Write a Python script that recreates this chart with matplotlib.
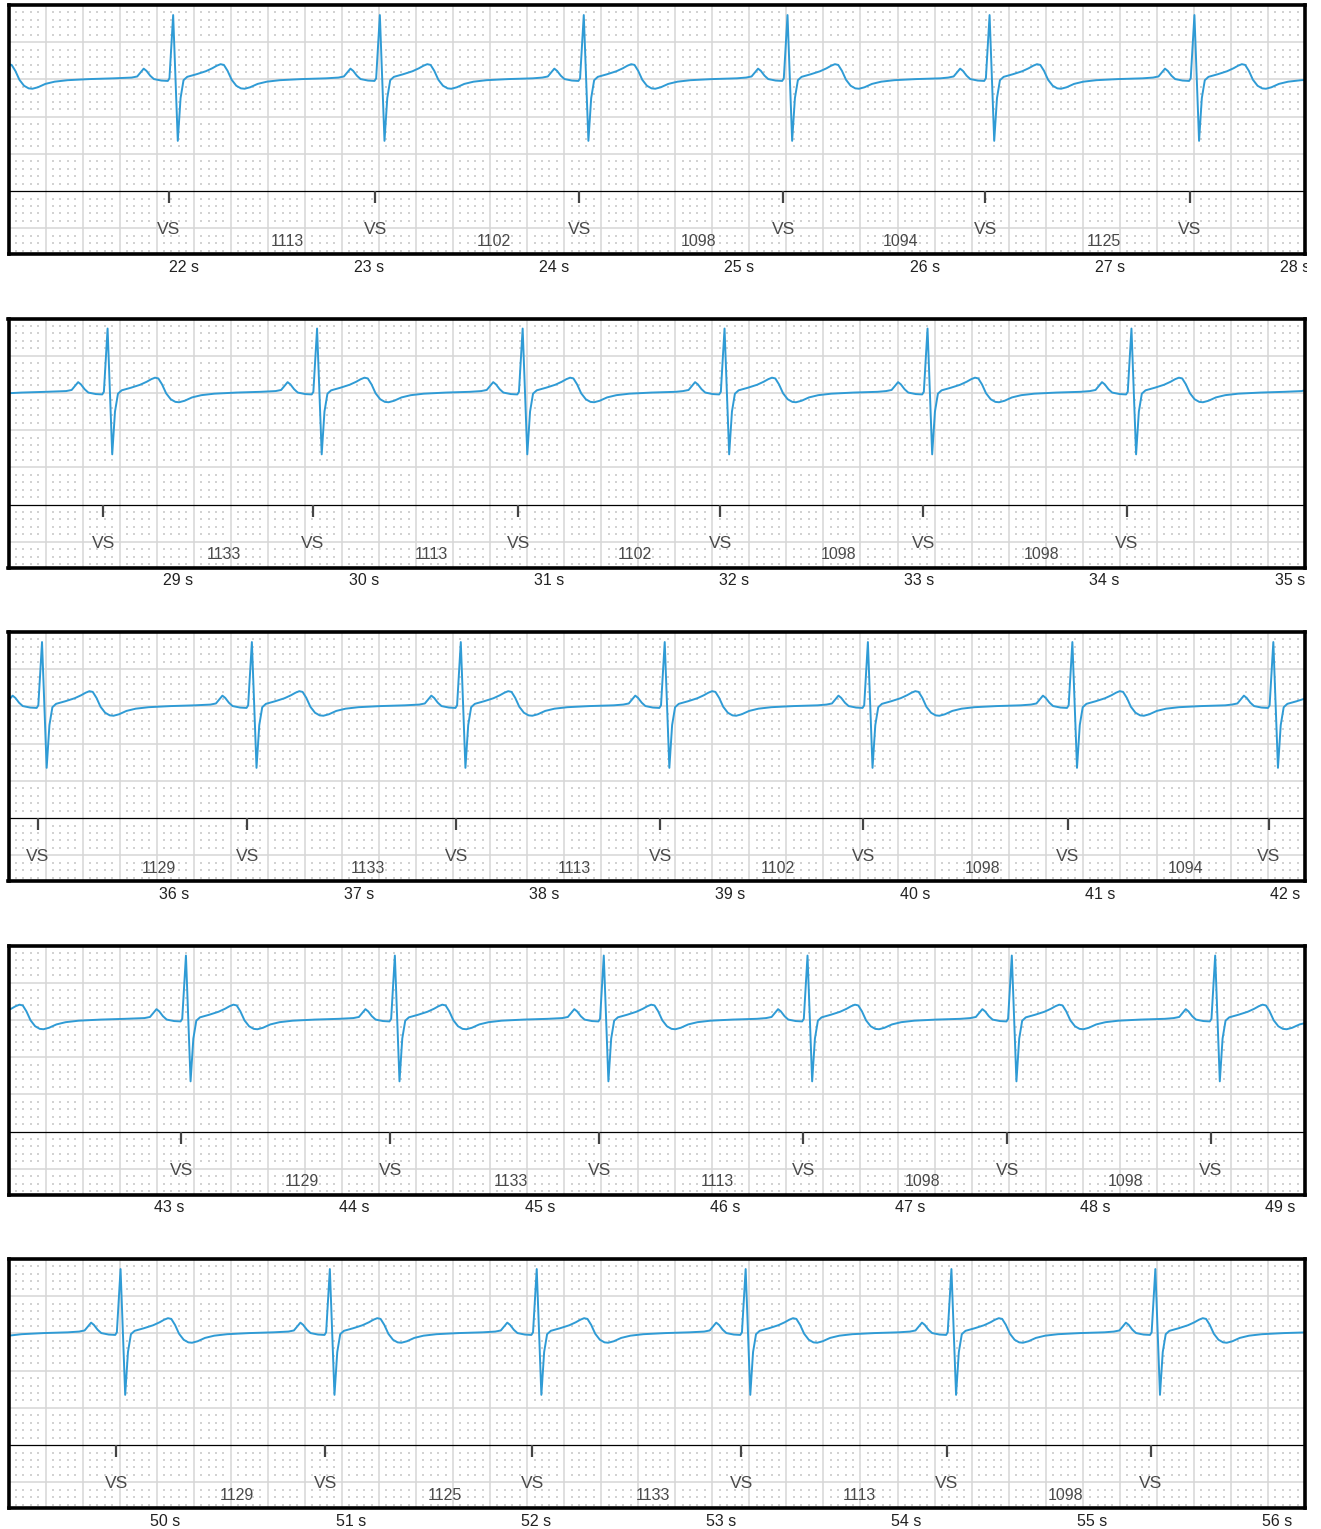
import numpy as np
import matplotlib
matplotlib.use("Agg")
import matplotlib.pyplot as plt
from matplotlib.transforms import Bbox

plt.rcParams['font.family'] = ['Liberation Sans', 'DejaVu Sans']

# start time of each 7 s strip (s)
strip_start = [21.054, 28.082, 35.106, 42.132, 49.152]
strip_len = 7.0

# ventricular sensed events (VS), seconds
vs_before = [20.773]   # only its T wave shows at the left of strip 1
vs_1 = [21.919, 23.035, 24.136, 25.236, 26.327, 27.433]
vs_2 = [28.593, 29.724, 30.834, 31.924, 33.020, 34.121]
vs_3 = [35.263, 36.396, 37.524, 38.625, 39.722, 40.826, 41.911]
vs_4 = [43.066, 44.194, 45.322, 46.422, 47.525, 48.623]
vs_5 = [49.733, 50.863, 51.980, 53.108, 54.219, 55.320]

# RR interval labels (ms)
rr_1 = [1113, 1102, 1098, 1094, 1125]
rr_2 = [1133, 1113, 1102, 1098, 1098]
rr_3 = [1129, 1133, 1113, 1102, 1098, 1094]
rr_4 = [1129, 1133, 1113, 1098, 1098]
rr_5 = [1129, 1125, 1133, 1113, 1098]

# one beat: time from VS (s) / amplitude over baseline (large squares)
beat_dt = [-0.200, -0.170, -0.150, -0.135, -0.120, -0.100, -0.080, -0.040,
           -0.005, 0.004, 0.024, 0.049, 0.064, 0.080, 0.100, 0.150, 0.200,
           0.235, 0.260, 0.280, 0.298, 0.318, 0.340, 0.365, 0.390, 0.410,
           0.440, 0.480, 0.530, 0.600, 0.720, 0.850]
beat_amp = [0.00, 0.03, 0.15, 0.24, 0.18, 0.05, -0.04, -0.08,
            -0.09, -0.02, 1.68, -1.70, -0.55, -0.07, 0.02, 0.09, 0.17,
            0.25, 0.32, 0.36, 0.34, 0.18, -0.06, -0.22, -0.29, -0.30,
            -0.26, -0.17, -0.11, -0.07, -0.04, -0.02]
baseline = 3.05

vs_strips = [vs_1, vs_2, vs_3, vs_4, vs_5]
rr_strips = [rr_1, rr_2, rr_3, rr_4, rr_5]
all_vs = vs_before + vs_1 + vs_2 + vs_3 + vs_4 + vs_5

W, H = 1321, 1529
fig = plt.figure(figsize=(W / 100, H / 100), dpi=100)
clip = Bbox.from_extents(0, 0, 1307, H)

grid_c = '#d6d6d6'
dot_c = '#d2d2d2'
trace_c = '#2f9bd5'
txt_c = '#4a4a4a'

for i in range(5):
    t0 = strip_start[i]
    t1 = t0 + strip_len
    top = 5 + 313.5 * i
    bot = 254 + 313.5 * i
    ax = fig.add_axes([8.5 / W, 1 - bot / H, 1296.5 / W, (bot - top) / H])
    ax.set_xlim(t0, t1)
    ax.set_ylim(-1.69, 5.0)
    ax.set_xticks([])
    ax.set_yticks([])
    for sp in ax.spines.values():
        sp.set_linewidth(2.6)
        sp.set_color('black')
        sp.set_zorder(10)

    # grid: 0.2 s major, 0.04 s dots
    gx = t0 + 0.2 * np.arange(1, 36)
    ax.vlines(gx, -1.69, 5.0, color=grid_c, lw=1.1, zorder=1)
    ax.hlines([-1, 1, 2, 3, 4], t0, t1, color=grid_c, lw=1.1, zorder=1)
    dx = t0 + 0.04 * np.array([k for k in range(1, 175) if k % 5])
    dy = 0.2 * np.array([k for k in range(-8, 25) if k % 5])
    xx, yy = np.meshgrid(dx, dy)
    ax.scatter(xx.ravel(), yy.ravel(), s=0.8, c=dot_c, marker='s',
               linewidths=0, zorder=1)
    ax.axhline(0, color='black', lw=0.9, zorder=3)

    # trace
    tx, ty = [], []
    for b in all_vs:
        if t0 - 1.2 < b < t1 + 0.3:
            tx.extend([b + d for d in beat_dt])
            ty.extend([baseline + a for a in beat_amp])
    ax.plot(tx, ty, color=trace_c, lw=1.4, zorder=5, solid_joinstyle='round')

    # markers
    vs = vs_strips[i]
    ax.vlines(vs, -0.33, 0, color='#444444', lw=1.6, zorder=4)
    for b in vs:
        ax.text(b, -1.04, 'VS', ha='center', va='center', fontsize=12.5,
                color=txt_c, zorder=6)
    for k, rr in enumerate(rr_strips[i]):
        mid = (vs[k] + vs[k + 1]) / 2
        ax.text(mid - 0.005, -1.35, str(rr), ha='left', va='center',
                fontsize=11.5, color=txt_c, zorder=6)

    # time labels under the strip
    for s in range(int(np.ceil(t0)), int(np.floor(t1)) + 1):
        t = ax.text(s, -2.05, f'{s} s', ha='center', va='center',
                    fontsize=11.5, color='#222222', clip_on=True)
        t.set_clip_path(None)
        t.set_clip_box(clip)

fig.savefig('out.png', dpi=100)
